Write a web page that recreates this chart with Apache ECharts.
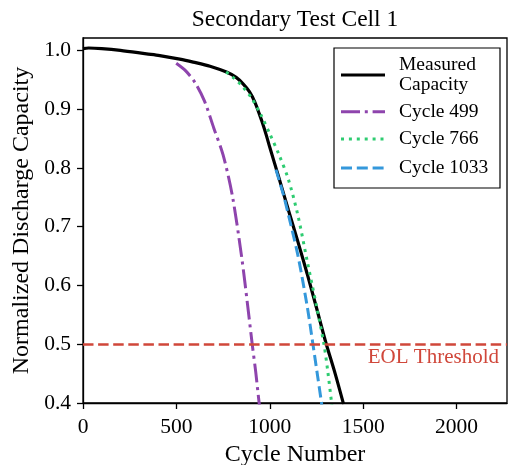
<!DOCTYPE html>
<html><head><meta charset="utf-8">
<script src="https://cdn.jsdelivr.net/npm/echarts@6/dist/echarts.min.js"></script>
<style>html,body{margin:0;padding:0;background:#fff}#c{width:509px;height:465px}</style>
</head><body><div id="c"></div>
<script>
const titleText = 'Secondary Test Cell 1';
const xTicks = [0, 500, 1000, 1500, 2000];
const yTicks = [0.4, 0.5, 0.6, 0.7, 0.8, 0.9, 1.0];
const eolValue = 0.5;

const measuredCycles = [0, 30, 100, 200, 340, 411, 518, 590, 680, 768, 820, 857, 890, 920, 956, 980, 1000, 1050, 1100, 1150, 1200, 1250, 1300, 1350, 1395];
const measuredValues = [1.003, 1.004, 1.003, 1.0, 0.994, 0.991, 0.985, 0.980, 0.973, 0.963, 0.954, 0.943, 0.930, 0.912, 0.881, 0.857, 0.835, 0.782, 0.728, 0.675, 0.620, 0.562, 0.503, 0.450, 0.398];

const c499Cycles = [499, 550, 600, 650, 700, 750, 800, 850, 880, 906, 925, 943, 955];
const c499Values = [0.978, 0.965, 0.945, 0.914, 0.868, 0.822, 0.752, 0.647, 0.570, 0.500, 0.452, 0.400, 0.370];

const c766Cycles = [766, 800, 850, 900, 950, 1000, 1050, 1100, 1150, 1200, 1250, 1290, 1310, 1331, 1340];
const c766Values = [0.963, 0.955, 0.940, 0.920, 0.892, 0.858, 0.822, 0.780, 0.720, 0.642, 0.565, 0.500, 0.455, 0.400, 0.375];

const c1033Cycles = [1033, 1075, 1100, 1150, 1200, 1231, 1255, 1277, 1285];
const c1033Values = [0.797, 0.752, 0.720, 0.652, 0.565, 0.500, 0.448, 0.400, 0.382];

const pairs = (xs, ys) => xs.map((x, i) => [x, ys[i]]);
const FONT = '"Liberation Serif", "Times New Roman", serif';
const RED = '#d0473a';

const legendItems = [
  {label: 'Measured\nCapacity', color: '#000000', width: 3.2, dash: null},
  {label: 'Cycle 499', color: '#8e44ad', width: 3, dash: [19, 4.8, 3, 4.8]},
  {label: 'Cycle 766', color: '#2ecc71', width: 3, dash: [3, 4.9]},
  {label: 'Cycle 1033', color: '#3498db', width: 3, dash: [11, 4.8]}
];
const legendRows = [75, 111.7, 139, 168];

const chart = echarts.init(document.getElementById('c'), null, {renderer: 'canvas'});

const legendChildren = [{
  type: 'rect', shape: {x: 334, y: 48, width: 166, height: 140},
  style: {fill: '#fff', stroke: '#000', lineWidth: 1.2}
}];
legendItems.forEach((it, i) => {
  const y = legendRows[i];
  legendChildren.push({
    type: 'line', shape: {x1: 341, y1: y, x2: 385, y2: y},
    style: {stroke: it.color, lineWidth: it.width, lineDash: it.dash || null}
  });
  legendChildren.push({
    type: 'text', x: 399, y: y,
    style: {text: it.label, fill: '#000', font: '19.5px ' + FONT, textVerticalAlign: 'middle', lineHeight: 20}
  });
});

chart.setOption({
  animation: false,
  grid: {left: 83, right: 2, top: 38, bottom: 62, show: true, borderColor: '#000', borderWidth: 1.3,
    backgroundColor: 'transparent', containLabel: false, outerBoundsMode: 'none'},
  xAxis: {
    type: 'value', min: 0, max: 2270,
    name: 'Cycle Number', nameLocation: 'middle', nameGap: 40,
    nameTextStyle: {fontFamily: FONT, fontSize: 24, color: '#000'},
    axisLine: {show: true, onZero: false, lineStyle: {color: '#000', width: 1.3}},
    axisTick: {show: true, length: 6, lineStyle: {color: '#000', width: 1.3}, customValues: xTicks},
    axisLabel: {fontFamily: FONT, fontSize: 21.5, color: '#000', margin: 13, customValues: xTicks,
      formatter: v => String(v)},
    splitLine: {show: false}
  },
  yAxis: {
    type: 'value', min: 0.4, max: 1.021,
    name: 'Normalized Discharge Capacity', nameLocation: 'middle', nameGap: 49,
    nameTextStyle: {fontFamily: FONT, fontSize: 24, color: '#000'},
    axisLine: {show: true, onZero: false, lineStyle: {color: '#000', width: 1.3}},
    axisTick: {show: true, length: 6, lineStyle: {color: '#000', width: 1.3}, customValues: yTicks},
    axisLabel: {fontFamily: FONT, fontSize: 21.5, color: '#000', margin: 12, customValues: yTicks,
      formatter: v => v.toFixed(1)},
    splitLine: {show: false}
  },
  series: [
    {
      name: 'Cycle 499', type: 'line', data: pairs(c499Cycles, c499Values), showSymbol: false, smooth: 0.3,
      lineStyle: {color: '#8e44ad', width: 3, type: [19, 4.8, 3, 4.8]}, z: 3
    },
    {
      name: 'Cycle 1033', type: 'line', data: pairs(c1033Cycles, c1033Values), showSymbol: false, smooth: 0.3,
      lineStyle: {color: '#3498db', width: 3, type: [11, 4.8]}, z: 3
    },
    {
      name: 'Measured Capacity', type: 'line', data: pairs(measuredCycles, measuredValues), showSymbol: false, smooth: 0.3,
      lineStyle: {color: '#000', width: 3.2}, z: 2,
      markLine: {
        silent: true, symbol: 'none', animation: false,
        lineStyle: {color: RED, width: 2.6, type: [10.5, 4.6]},
        label: {show: true, position: 'insideEndBottom', formatter: 'EOL Threshold', fontFamily: FONT, fontSize: 21, color: RED, distance: [8, 3]},
        data: [{yAxis: eolValue}]
      }
    },
    {
      name: 'Cycle 766', type: 'line', data: pairs(c766Cycles, c766Values), showSymbol: false, smooth: 0.3,
      lineStyle: {color: '#2ecc71', width: 3, type: [3, 4.9]}, z: 4
    }
  ],
  graphic: [
    {type: 'text', x: 295, y: 20, z: 100,
      style: {text: titleText, fill: '#000', font: '23.5px ' + FONT, textAlign: 'center', textVerticalAlign: 'middle'}},
    {type: 'group', z: 100, children: legendChildren}
  ]
});
</script></body></html>
